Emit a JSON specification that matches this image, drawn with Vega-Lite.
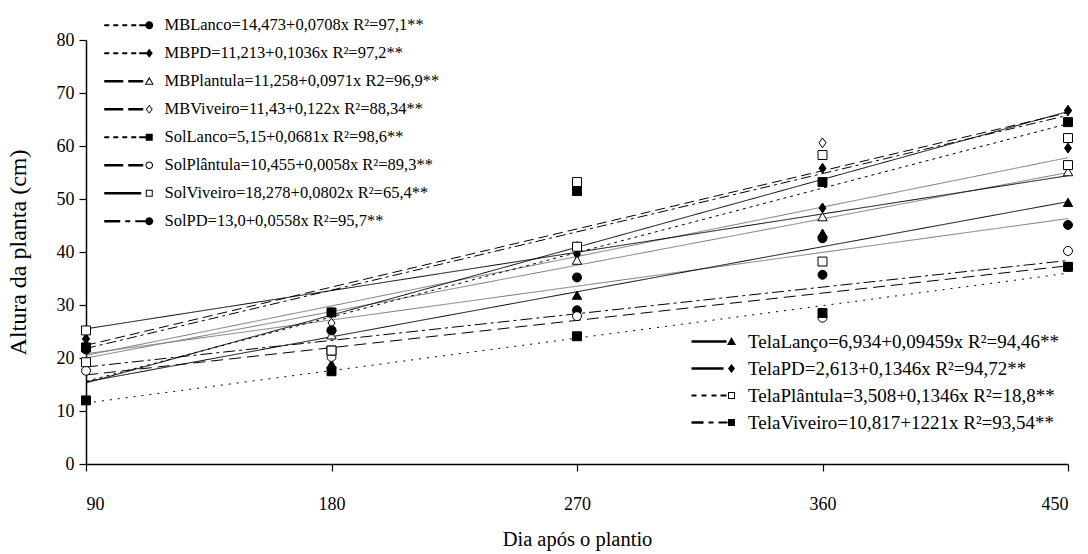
{
  "$schema": "https://vega.github.io/schema/vega-lite/v6.json",
  "width": 982,
  "height": 424,
  "autosize": "none",
  "padding": {"left": 86, "top": 40, "right": 20, "bottom": 90},
  "background": "white",
  "config": {
    "view": {"stroke": null},
    "font": "Liberation Serif",
    "axis": {"grid": false, "domainColor": "black", "domainWidth": 1.5, "tickColor": "black", "tickWidth": 1.2, "tickSize": 7, "labelFont": "Liberation Serif", "labelColor": "black", "titleFont": "Liberation Serif", "titleColor": "black", "titleFontWeight": "normal"}
  },
  "datasets": {
    "pts": [
      {"s": "MBViveiro", "d": 90, "h": 22.3}, {"s": "MBViveiro", "d": 180, "h": 26.6}, {"s": "MBViveiro", "d": 270, "h": 41.0}, {"s": "MBViveiro", "d": 360, "h": 60.6}, {"s": "MBViveiro", "d": 450, "h": 66.7},
      {"s": "SolPD", "d": 90, "h": 22.0}, {"s": "SolPD", "d": 180, "h": 25.2}, {"s": "SolPD", "d": 270, "h": 29.0}, {"s": "SolPD", "d": 360, "h": 35.7}, {"s": "SolPD", "d": 450, "h": 37.2},
      {"s": "TelaPD", "d": 90, "h": 23.6}, {"s": "TelaPD", "d": 180, "h": 28.6}, {"s": "TelaPD", "d": 270, "h": 41.0}, {"s": "TelaPD", "d": 360, "h": 55.8}, {"s": "TelaPD", "d": 450, "h": 66.7},
      {"s": "MBPD", "d": 90, "h": 23.6}, {"s": "MBPD", "d": 180, "h": 28.6}, {"s": "MBPD", "d": 270, "h": 39.6}, {"s": "MBPD", "d": 360, "h": 48.3}, {"s": "MBPD", "d": 450, "h": 59.6},
      {"s": "MBPlantula", "d": 90, "h": 22.0}, {"s": "MBPlantula", "d": 180, "h": 24.3}, {"s": "MBPlantula", "d": 270, "h": 38.4}, {"s": "MBPlantula", "d": 360, "h": 46.6}, {"s": "MBPlantula", "d": 450, "h": 55.1},
      {"s": "MBLanco", "d": 90, "h": 21.6}, {"s": "MBLanco", "d": 180, "h": 25.2}, {"s": "MBLanco", "d": 270, "h": 35.2}, {"s": "MBLanco", "d": 360, "h": 42.6}, {"s": "MBLanco", "d": 450, "h": 45.1},
      {"s": "TelaLanco", "d": 90, "h": 22.0}, {"s": "TelaLanco", "d": 180, "h": 18.8}, {"s": "TelaLanco", "d": 270, "h": 31.8}, {"s": "TelaLanco", "d": 360, "h": 43.5}, {"s": "TelaLanco", "d": 450, "h": 49.3},
      {"s": "SolPlantula", "d": 90, "h": 17.6}, {"s": "SolPlantula", "d": 180, "h": 20.2}, {"s": "SolPlantula", "d": 270, "h": 27.9}, {"s": "SolPlantula", "d": 360, "h": 27.6}, {"s": "SolPlantula", "d": 450, "h": 40.2},
      {"s": "SolLanco", "d": 90, "h": 12.0}, {"s": "SolLanco", "d": 180, "h": 17.5}, {"s": "SolLanco", "d": 270, "h": 24.1}, {"s": "SolLanco", "d": 360, "h": 28.5}, {"s": "SolLanco", "d": 450, "h": 37.2},
      {"s": "SolViveiro", "d": 90, "h": 25.2}, {"s": "SolViveiro", "d": 180, "h": 21.4}, {"s": "SolViveiro", "d": 270, "h": 53.2}, {"s": "SolViveiro", "d": 360, "h": 38.2}, {"s": "SolViveiro", "d": 450, "h": 56.4},
      {"s": "TelaPlantula", "d": 90, "h": 19.2}, {"s": "TelaPlantula", "d": 180, "h": 21.4}, {"s": "TelaPlantula", "d": 270, "h": 41.0}, {"s": "TelaPlantula", "d": 360, "h": 58.3}, {"s": "TelaPlantula", "d": 450, "h": 61.5},
      {"s": "TelaViveiro", "d": 90, "h": 22.0}, {"s": "TelaViveiro", "d": 180, "h": 28.6}, {"s": "TelaViveiro", "d": 270, "h": 51.5}, {"s": "TelaViveiro", "d": 360, "h": 53.2}, {"s": "TelaViveiro", "d": 450, "h": 64.5}
    ],
    "fit": [
      {"s": "MBLanco", "d": 90, "h": 20.8}, {"s": "MBLanco", "d": 450, "h": 46.3},
      {"s": "MBPD", "d": 90, "h": 20.5}, {"s": "MBPD", "d": 450, "h": 57.8},
      {"s": "MBPlantula", "d": 90, "h": 20.0}, {"s": "MBPlantula", "d": 450, "h": 55.0},
      {"s": "MBViveiro", "d": 90, "h": 22.4}, {"s": "MBViveiro", "d": 450, "h": 66.3},
      {"s": "SolLanco", "d": 90, "h": 11.5}, {"s": "SolLanco", "d": 450, "h": 36.0},
      {"s": "SolPlantula", "d": 90, "h": 16.8}, {"s": "SolPlantula", "d": 450, "h": 37.4},
      {"s": "SolViveiro", "d": 90, "h": 25.5}, {"s": "SolViveiro", "d": 450, "h": 54.4},
      {"s": "SolPD", "d": 90, "h": 18.3}, {"s": "SolPD", "d": 450, "h": 38.4},
      {"s": "TelaLanco", "d": 90, "h": 15.5}, {"s": "TelaLanco", "d": 450, "h": 49.5},
      {"s": "TelaPD", "d": 90, "h": 15.3}, {"s": "TelaPD", "d": 450, "h": 66.5},
      {"s": "TelaPlantula", "d": 90, "h": 15.6}, {"s": "TelaPlantula", "d": 450, "h": 64.2},
      {"s": "TelaViveiro", "d": 90, "h": 21.8}, {"s": "TelaViveiro", "d": 450, "h": 65.8}
    ],
    "legA": [
      {"eq": "MBLanco=14,473+0,0708x R²=97,1**"},
      {"eq": "MBPD=11,213+0,1036x R²=97,2**"},
      {"eq": "MBPlantula=11,258+0,0971x R2=96,9**"},
      {"eq": "MBViveiro=11,43+0,122x R²=88,34**"},
      {"eq": "SolLanco=5,15+0,0681x R²=98,6**"},
      {"eq": "SolPlântula=10,455+0,0058x R²=89,3**"},
      {"eq": "SolViveiro=18,278+0,0802x R²=65,4**"},
      {"eq": "SolPD=13,0+0,0558x R²=95,7**"}
    ],
    "legB": [
      {"eq": "TelaLanço=6,934+0,09459x R²=94,46**"},
      {"eq": "TelaPD=2,613+0,1346x  R²=94,72**"},
      {"eq": "TelaPlântula=3,508+0,1346x  R²=18,8**"},
      {"eq": "TelaViveiro=10,817+1221x R²=93,54**"}
    ]
  },
  "layer": [
    {
      "data": {"name": "fit"},
      "mark": {"type": "line"},
      "encoding": {
        "x": {"field": "d", "type": "quantitative", "scale": {"domain": [90, 450], "nice": false, "zero": false},
              "axis": {"values": [90, 180, 270, 360, 450], "labelFontSize": 18, "labelPadding": 24, "title": "Dia após o plantio", "titleFontSize": 20.5, "titlePadding": 16}},
        "y": {"field": "h", "type": "quantitative", "scale": {"domain": [0, 80], "nice": false},
              "axis": {"values": [0, 10, 20, 30, 40, 50, 60, 70, 80], "labelFontSize": 18, "labelPadding": 5, "title": "Altura da planta (cm)", "titleFontSize": 24, "titlePadding": 26}},
        "detail": {"field": "s"},
        "color": {"field": "s", "type": "nominal", "legend": null,
                  "scale": {"domain": ["MBLanco","MBPD","MBPlantula","MBViveiro","SolLanco","SolPlantula","SolViveiro","SolPD","TelaLanco","TelaPD","TelaPlantula","TelaViveiro"],
                            "range": ["#777777","#777777","#777777","black","black","black","black","black","black","black","black","black"]}},
        "strokeWidth": {"field": "s", "type": "nominal", "legend": null,
                  "scale": {"domain": ["MBLanco","MBPD","MBPlantula","MBViveiro","SolLanco","SolPlantula","SolViveiro","SolPD","TelaLanco","TelaPD","TelaPlantula","TelaViveiro"],
                            "range": [1, 1, 1, 1.6, 2.2, 1.8, 1.8, 1.8, 1.8, 1.8, 2, 1.8]}},
        "strokeDash": {"field": "s", "type": "nominal", "legend": null,
                  "scale": {"domain": ["MBLanco","MBPD","MBPlantula","MBViveiro","SolLanco","SolPlantula","SolViveiro","SolPD","TelaLanco","TelaPD","TelaPlantula","TelaViveiro"],
                            "range": [[1,0],[1,0],[1,0],[10,5],[2,6],[12,6],[1,0],[12,4,3,4],[1,0],[1,0],[3,4],[10,4,3,4]]}}
      }
    },
    {
      "data": {"name": "pts"},
      "mark": {"type": "point", "filled": true, "stroke": "black", "strokeWidth": 1, "size": 80, "opacity": 1},
      "encoding": {
        "x": {"field": "d", "type": "quantitative"},
        "y": {"field": "h", "type": "quantitative"},
        "shape": {"field": "s", "type": "nominal", "legend": null,
                  "scale": {"domain": ["MBLanco","MBPD","MBPlantula","MBViveiro","SolLanco","SolPlantula","SolViveiro","SolPD","TelaLanco","TelaPD","TelaPlantula","TelaViveiro"],
                            "range": ["circle","M0,-1.1L0.78,0L0,1.1L-0.78,0Z","M0,-1L1.05,0.85L-1.05,0.85Z","M0,-1.1L0.78,0L0,1.1L-0.78,0Z","square","circle","square","circle","M0,-1L1.05,0.85L-1.05,0.85Z","M0,-1.1L0.78,0L0,1.1L-0.78,0Z","square","square"]}},
        "fill": {"field": "s", "type": "nominal", "legend": null,
                  "scale": {"domain": ["MBLanco","MBPD","MBPlantula","MBViveiro","SolLanco","SolPlantula","SolViveiro","SolPD","TelaLanco","TelaPD","TelaPlantula","TelaViveiro"],
                            "range": ["black","black","white","white","black","white","white","black","black","black","white","black"]}}
      }
    },
    {
      "data": {"name": "legA"},
      "mark": {"type": "point", "filled": true, "color": "black", "opacity": 0, "size": 4},
      "encoding": {
        "shape": {"field": "eq", "type": "nominal",
          "scale": {"domain": ["MBLanco=14,473+0,0708x R²=97,1**","MBPD=11,213+0,1036x R²=97,2**","MBPlantula=11,258+0,0971x R2=96,9**","MBViveiro=11,43+0,122x R²=88,34**","SolLanco=5,15+0,0681x R²=98,6**","SolPlântula=10,455+0,0058x R²=89,3**","SolViveiro=18,278+0,0802x R²=65,4**","SolPD=13,0+0,0558x R²=95,7**"],
            "range": [
              "M-45,-1.1L-40,-1.1L-40,1.1L-45,1.1ZM-36,-1.1L-31,-1.1L-31,1.1L-36,1.1ZM-27,-1.1L-22,-1.1L-22,1.1L-27,1.1ZM-18,-1.1L-13,-1.1L-13,1.1L-18,1.1ZM-10,-1.1L-3,-1.1L-3,1.1L-10,1.1ZM-4,0A4,4,0,1,1,4,0A4,4,0,1,1,-4,0Z",
              "M-45,-1.1L-40,-1.1L-40,1.1L-45,1.1ZM-36,-1.1L-31,-1.1L-31,1.1L-36,1.1ZM-27,-1.1L-22,-1.1L-22,1.1L-27,1.1ZM-18,-1.1L-13,-1.1L-13,1.1L-18,1.1ZM-10,-1.1L-3,-1.1L-3,1.1L-10,1.1ZM0,-4.5L3.5,0L0,4.5L-3.5,0Z",
              "M-45,-1.2L-26,-1.2L-26,1.2L-45,1.2ZM-21,-1.2L-6,-1.2L-6,1.2L-21,1.2ZM0,-4.5L4.5,3.5L-4.5,3.5ZM0,-2.3L-2.9,2.5L2.9,2.5Z",
              "M-45,-1.2L-26,-1.2L-26,1.2L-45,1.2ZM-21,-1.2L-6,-1.2L-6,1.2L-21,1.2ZM0,-4.5L3.5,0L0,4.5L-3.5,0ZM0,-3.2L-2.4,0L0,3.2L2.4,0Z",
              "M-45,-1.1L-40,-1.1L-40,1.1L-45,1.1ZM-36,-1.1L-31,-1.1L-31,1.1L-36,1.1ZM-27,-1.1L-22,-1.1L-22,1.1L-27,1.1ZM-18,-1.1L-13,-1.1L-13,1.1L-18,1.1ZM-10,-1.1L-3,-1.1L-3,1.1L-10,1.1ZM-3.5,-3.5L3.5,-3.5L3.5,3.5L-3.5,3.5Z",
              "M-45,-1.2L-26,-1.2L-26,1.2L-45,1.2ZM-21,-1.2L-6,-1.2L-6,1.2L-21,1.2ZM-3.8,0A3.8,3.8,0,1,1,3.8,0A3.8,3.8,0,1,1,-3.8,0ZM-2.8,0A2.8,2.8,0,1,0,2.8,0A2.8,2.8,0,1,0,-2.8,0Z",
              "M-45,-1.2L-8,-1.2L-8,1.2L-45,1.2ZM-3.5,-3.5L3.5,-3.5L3.5,3.5L-3.5,3.5ZM-2.5,-2.5L-2.5,2.5L2.5,2.5L2.5,-2.5Z",
              "M-45,-1.2L-29,-1.2L-29,1.2L-45,1.2ZM-24,-1.1L-19,-1.1L-19,1.1L-24,1.1ZM-14,-1.1L-4,-1.1L-4,1.1L-14,1.1ZM-4,0A4,4,0,1,1,4,0A4,4,0,1,1,-4,0Z"
            ]},
          "legend": {"orient": "none", "legendX": 55, "legendY": -23, "title": null, "padding": 0, "labelFont": "Liberation Serif", "labelFontSize": 16.5, "labelColor": "black", "labelLimit": 0, "labelOffset": 7, "symbolSize": 4, "symbolStrokeWidth": 0, "symbolFillColor": "black", "rowPadding": 11}}
      }
    },
    {
      "data": {"name": "legB"},
      "mark": {"type": "point", "filled": true, "color": "black", "opacity": 0, "size": 4},
      "encoding": {
        "shape": {"field": "eq", "type": "nominal",
          "scale": {"domain": ["TelaLanço=6,934+0,09459x R²=94,46**","TelaPD=2,613+0,1346x  R²=94,72**","TelaPlântula=3,508+0,1346x  R²=18,8**","TelaViveiro=10,817+1221x R²=93,54**"],
            "range": [
              "M-40,-1.2L-5,-1.2L-5,1.2L-40,1.2ZM0,-4.5L4.5,3.5L-4.5,3.5Z",
              "M-40,-1.2L-8,-1.2L-8,1.2L-40,1.2ZM0,-4.5L3.5,0L0,4.5L-3.5,0Z",
              "M-40,-1.1L-35,-1.1L-35,1.1L-40,1.1ZM-30,-1.1L-25,-1.1L-25,1.1L-30,1.1ZM-20,-1.1L-15,-1.1L-15,1.1L-20,1.1ZM-11,-1.1L-5,-1.1L-5,1.1L-11,1.1ZM-3.5,-3.5L3.5,-3.5L3.5,3.5L-3.5,3.5ZM-2.5,-2.5L-2.5,2.5L2.5,2.5L2.5,-2.5Z",
              "M-40,-1.2L-28,-1.2L-28,1.2L-40,1.2ZM-23,-1.1L-18,-1.1L-18,1.1L-23,1.1ZM-13,-1.1L-4,-1.1L-4,1.1L-13,1.1ZM-3.5,-3.5L3.5,-3.5L3.5,3.5L-3.5,3.5Z"
            ]},
          "legend": {"orient": "none", "legendX": 636, "legendY": 292, "title": null, "padding": 0, "labelFont": "Liberation Serif", "labelFontSize": 19, "labelColor": "black", "labelLimit": 0, "labelOffset": 7, "symbolSize": 4, "symbolStrokeWidth": 0, "symbolFillColor": "black", "rowPadding": 7}}
      }
    }
  ],
  "resolve": {"scale": {"shape": "independent", "fill": "independent", "color": "independent"}, "legend": {"shape": "independent"}}
}
